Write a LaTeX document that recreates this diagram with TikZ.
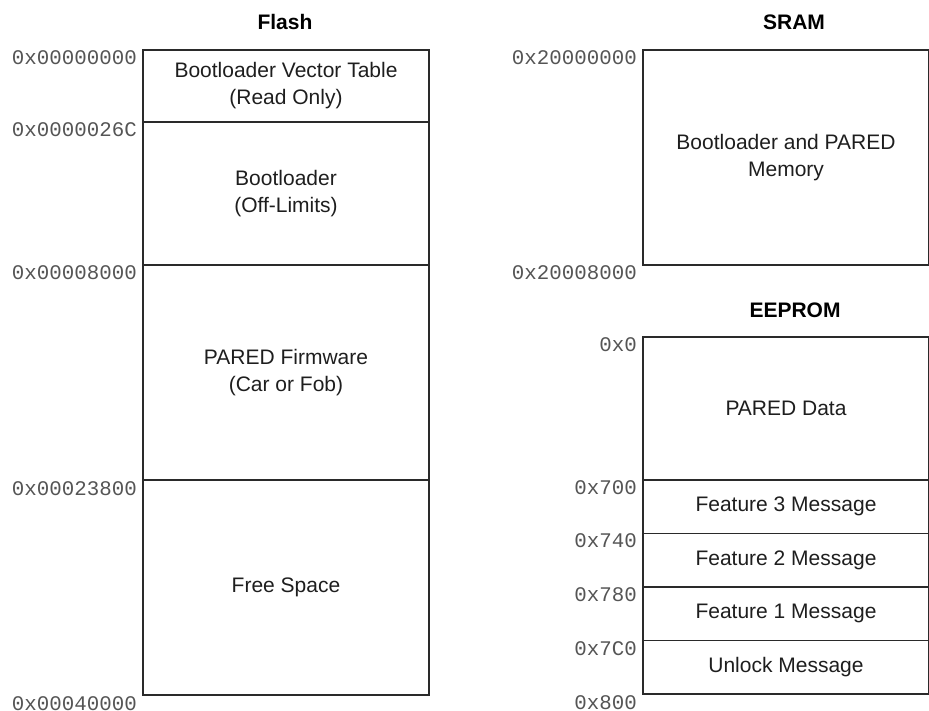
\documentclass[tikz,border=0pt]{standalone}
\usepackage{fontspec}
\setmainfont{Liberation Sans}
\newfontfamily\addrfont{Liberation Mono}
\definecolor{linec}{HTML}{2A2A2A}
\definecolor{addrc}{HTML}{555555}
\definecolor{textc}{HTML}{1E1E1E}
\tikzset{
  memsec/.style={draw=linec, line width=1.8pt, minimum width=286pt, inner sep=0pt, outer sep=0pt,
    align=center, text=textc, font=\fontsize{21}{27}\selectfont},
  addr/.style={anchor=base east, inner sep=0pt, text=addrc, font=\addrfont\fontsize{20.8}{24}\selectfont},
  title/.style={anchor=base, inner sep=0pt, text=black, font=\bfseries\fontsize{21}{25}\selectfont}
}
\begin{document}
\begin{tikzpicture}[x=1pt,y=-1pt]
\useasboundingbox (0,0) rectangle (929,711);
\clip (0,0) rectangle (929,711);
% Flash
\node[title] (tflash) at (285,30) {Flash};
\node[memsec, minimum height=72pt] (f1) at (286,86) {Bootloader Vector Table\\(Read Only)};
\node[memsec, minimum height=143pt] (f2) at (286,193.5) {Bootloader\\(Off-Limits)};
\node[memsec, minimum height=215pt] (f3) at (286,372.5) {PARED Firmware\\(Car or Fob)};
\node[memsec, minimum height=215pt] (f4) at (286,587.5) {Free Space};
\node[addr] (a1) at (137,65) {0x00000000};
\node[addr] (a2) at (137,137) {0x0000026C};
\node[addr] (a3) at (137,280) {0x00008000};
\node[addr] (a4) at (137,495) {0x00023800};
\node[addr] (a5) at (137,710) {0x00040000};
% SRAM
\node[title] (tsram) at (794,30) {SRAM};
\node[memsec, minimum height=215pt] (s1) at (786,157.5) {Bootloader and PARED\\Memory};
\node[addr] (b1) at (637,65) {0x20000000};
\node[addr] (b2) at (637,280) {0x20008000};
% EEPROM
\node[title] (teeprom) at (795,317) {EEPROM};
\node[memsec, minimum height=143pt] (e1) at (786,408.5) {PARED Data};
\node[memsec, minimum height=53.5pt] (e2) at (786,506.75) {Feature 3 Message};
\node[memsec, minimum height=53.5pt] (e3) at (786,560.25) {Feature 2 Message};
\node[memsec, minimum height=53.5pt] (e4) at (786,613.75) {Feature 1 Message};
\node[memsec, minimum height=53.5pt] (e5) at (786,667.25) {Unlock Message};
\node[addr] (c1) at (637,352) {0x0};
\node[addr] (c2) at (637,494) {0x700};
\node[addr] (c3) at (637,547) {0x740};
\node[addr] (c4) at (637,601) {0x780};
\node[addr] (c5) at (637,655) {0x7C0};
\node[addr] (c6) at (637,709) {0x800};
\end{tikzpicture}
\end{document}
